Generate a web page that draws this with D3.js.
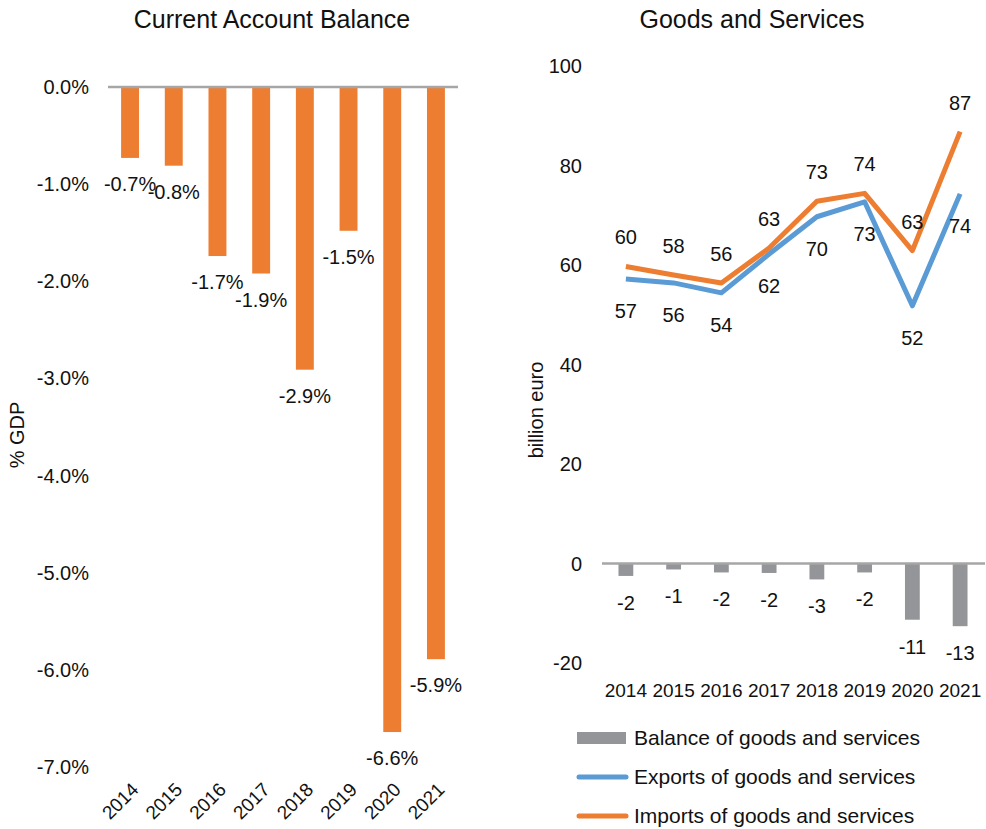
<!DOCTYPE html>
<html>
<head>
<meta charset="utf-8">
<script src="https://cdn.jsdelivr.net/npm/d3@7"></script>
<style>
  body { margin: 0; background: #fff; }
  text { font-family: "Liberation Sans", Arial, sans-serif; fill: #111; }
</style>
</head>
<body>
<script>
// data
const years = ['2014','2015','2016','2017','2018','2019','2020','2021'];
const currentAccount = [-0.73, -0.81, -1.74, -1.92, -2.91, -1.48, -6.64, -5.89];
const caTicks = [0, -1, -2, -3, -4, -5, -6, -7];
const balance = [-2.5, -1.2, -1.8, -1.9, -3.2, -1.8, -11.3, -12.6];
const exportsGS = [57.2, 56.4, 54.4, 62.2, 69.7, 72.7, 51.8, 74.3];
const importsGS = [59.7, 58.0, 56.4, 63.4, 72.8, 74.4, 62.9, 86.8];
const gsTicks = [100, 80, 60, 40, 20, 0, -20];
const legendItems = ['Balance of goods and services', 'Exports of goods and services', 'Imports of goods and services'];

const orange = '#ED7D31', blue = '#5B9BD5', grey = '#939598', axisGrey = '#A6A6A6';
const pct = d => d.toFixed(1) + '%';

const svg = d3.select('body').append('svg')
              .attr('width', 986)
              .attr('height', 829);

// ---------- left: current account balance ----------
const xL = d3.scaleBand().domain(years).range([108, 458]).paddingInner(0.59).paddingOuter(0.3);
const yL = d3.scaleLinear().domain([-7, 0]).range([767, 87]);

svg.append('text').attr('x', 272).attr('y', 28).attr('text-anchor', 'middle')
   .style('font-size', '25px').text('Current Account Balance');

svg.append('g').selectAll('text').data(caTicks).join('text')
   .attr('x', 89).attr('y', d => yL(d)).attr('dy', '0.35em').attr('text-anchor', 'end')
   .style('font-size', '20px').text(pct);

svg.append('text').attr('transform', 'translate(24,435) rotate(-90)').attr('text-anchor', 'middle')
   .style('font-size', '20px').text('% GDP');

svg.append('g').selectAll('rect').data(currentAccount).join('rect')
   .attr('x', (d, i) => xL(years[i])).attr('width', xL.bandwidth())
   .attr('y', yL(0)).attr('height', d => yL(d) - yL(0))
   .style('fill', orange);

svg.append('line').attr('x1', 108).attr('x2', 458).attr('y1', yL(0)).attr('y2', yL(0))
   .style('stroke', axisGrey).style('stroke-width', 2.5);

svg.append('g').selectAll('text').data(currentAccount).join('text')
   .attr('x', (d, i) => xL(years[i]) + xL.bandwidth() / 2).attr('y', d => yL(d) + 26)
   .attr('dy', '0.35em').attr('text-anchor', 'middle')
   .style('font-size', '20px').text(pct);

svg.append('g').selectAll('text').data(years).join('text')
   .attr('transform', d => `translate(${xL(d) + xL.bandwidth() / 2 + 5},786) rotate(-45)`)
   .attr('text-anchor', 'end').attr('dy', '0.35em')
   .style('font-size', '19px').text(d => d);

// ---------- right: goods and services ----------
const xR = d3.scaleBand().domain(years).range([602, 984]).paddingInner(0.69).paddingOuter(0.345);
const yR = d3.scaleLinear().domain([-20, 100]).range([663, 66]);
const cx = i => xR(years[i]) + xR.bandwidth() / 2;

svg.append('text').attr('x', 752).attr('y', 28).attr('text-anchor', 'middle')
   .style('font-size', '25px').text('Goods and Services');

svg.append('g').selectAll('text').data(gsTicks).join('text')
   .attr('x', 582).attr('y', d => yR(d)).attr('dy', '0.35em').attr('text-anchor', 'end')
   .style('font-size', '20px').text(d => d);

svg.append('text').attr('transform', 'translate(543,410) rotate(-90)').attr('text-anchor', 'middle')
   .style('font-size', '20px').text('billion euro');

svg.append('g').selectAll('rect').data(balance).join('rect')
   .attr('x', (d, i) => xR(years[i])).attr('width', xR.bandwidth())
   .attr('y', yR(0)).attr('height', d => yR(d) - yR(0))
   .style('fill', grey);

svg.append('line').attr('x1', 602).attr('x2', 985).attr('y1', yR(0)).attr('y2', yR(0))
   .style('stroke', axisGrey).style('stroke-width', 2.5);

svg.append('g').selectAll('text').data(balance).join('text')
   .attr('x', (d, i) => cx(i)).attr('y', d => yR(d) + 27)
   .attr('dy', '0.35em').attr('text-anchor', 'middle')
   .style('font-size', '20px').text(d => Math.round(d));

const line = d3.line().x((d, i) => cx(i)).y(d => yR(d));

svg.append('path').datum(exportsGS).attr('d', line)
   .style('fill', 'none').style('stroke', blue).style('stroke-width', 5).style('stroke-linejoin', 'round');
svg.append('path').datum(importsGS).attr('d', line)
   .style('fill', 'none').style('stroke', orange).style('stroke-width', 5).style('stroke-linejoin', 'round');

svg.append('g').selectAll('text').data(exportsGS).join('text')
   .attr('x', (d, i) => cx(i)).attr('y', d => yR(d) + 32)
   .attr('dy', '0.35em').attr('text-anchor', 'middle')
   .style('font-size', '20px').text(d => Math.round(d));

svg.append('g').selectAll('text').data(importsGS).join('text')
   .attr('x', (d, i) => cx(i)).attr('y', d => yR(d) - 29)
   .attr('dy', '0.35em').attr('text-anchor', 'middle')
   .style('font-size', '20px').text(d => Math.round(d));

svg.append('g').selectAll('text').data(years).join('text')
   .attr('x', d => xR(d) + xR.bandwidth() / 2).attr('y', 690).attr('dy', '0.35em')
   .attr('text-anchor', 'middle').style('font-size', '19px').text(d => d);

// legend
const legend = svg.append('g').attr('transform', 'translate(577,738)');
legend.append('rect').attr('x', 0).attr('y', -6).attr('width', 49).attr('height', 12).style('fill', grey);
legend.append('line').attr('x1', 2).attr('x2', 49).attr('y1', 39).attr('y2', 39)
      .style('stroke', blue).style('stroke-width', 5).style('stroke-linecap', 'round');
legend.append('line').attr('x1', 2).attr('x2', 49).attr('y1', 78).attr('y2', 78)
      .style('stroke', orange).style('stroke-width', 5).style('stroke-linecap', 'round');
legend.selectAll('text.item').data(legendItems).join('text')
      .attr('class', 'item').attr('x', 57).attr('y', (d, i) => i * 39).attr('dy', '0.35em')
      .style('font-size', '21px').text(d => d);
</script>
</body>
</html>
